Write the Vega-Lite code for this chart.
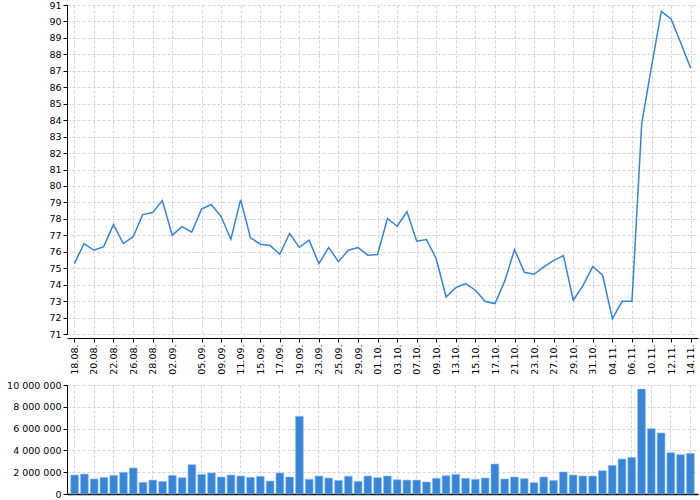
{
  "$schema": "https://vega.github.io/schema/vega-lite/v6.json",
  "padding": {"left": 6, "top": 0, "right": 2, "bottom": 0},
  "background": "white",
  "config": {
    "view": {"stroke": null},
    "axis": {
      "labelFont": "DejaVu Sans",
      "labelFontSize": 9.5,
      "labelColor": "#000",
      "domainColor": "#000",
      "tickColor": "#000",
      "tickSize": 4,
      "labelPadding": 2,
      "gridColor": "#d4d4d4",
      "gridDash": [3, 2],
      "title": null
    }
  },
  "data": {
    "values": [
      {"date": "18.08.", "close": 75.28, "volume": 1740000},
      {"date": "19.08.", "close": 76.50, "volume": 1830000},
      {"date": "20.08.", "close": 76.09, "volume": 1380000},
      {"date": "21.08.", "close": 76.31, "volume": 1530000},
      {"date": "22.08.", "close": 77.65, "volume": 1710000},
      {"date": "25.08.", "close": 76.50, "volume": 1990000},
      {"date": "26.08.", "close": 76.90, "volume": 2390000},
      {"date": "27.08.", "close": 78.26, "volume": 1070000},
      {"date": "28.08.", "close": 78.38, "volume": 1280000},
      {"date": "29.08.", "close": 79.11, "volume": 1160000},
      {"date": "02.09.", "close": 77.00, "volume": 1710000},
      {"date": "03.09.", "close": 77.53, "volume": 1500000},
      {"date": "04.09.", "close": 77.19, "volume": 2690000},
      {"date": "05.09.", "close": 78.59, "volume": 1800000},
      {"date": "08.09.", "close": 78.87, "volume": 1930000},
      {"date": "09.09.", "close": 78.14, "volume": 1560000},
      {"date": "10.09.", "close": 76.76, "volume": 1740000},
      {"date": "11.09.", "close": 79.17, "volume": 1650000},
      {"date": "12.09.", "close": 76.86, "volume": 1530000},
      {"date": "15.09.", "close": 76.46, "volume": 1620000},
      {"date": "16.09.", "close": 76.38, "volume": 1190000},
      {"date": "17.09.", "close": 75.85, "volume": 1930000},
      {"date": "18.09.", "close": 77.11, "volume": 1560000},
      {"date": "19.09.", "close": 76.27, "volume": 7130000},
      {"date": "22.09.", "close": 76.70, "volume": 1350000},
      {"date": "23.09.", "close": 75.28, "volume": 1650000},
      {"date": "24.09.", "close": 76.25, "volume": 1470000},
      {"date": "25.09.", "close": 75.40, "volume": 1250000},
      {"date": "26.09.", "close": 76.09, "volume": 1630000},
      {"date": "29.09.", "close": 76.25, "volume": 1160000},
      {"date": "30.09.", "close": 75.79, "volume": 1650000},
      {"date": "01.10.", "close": 75.83, "volume": 1500000},
      {"date": "02.10.", "close": 78.02, "volume": 1650000},
      {"date": "03.10.", "close": 77.55, "volume": 1310000},
      {"date": "06.10.", "close": 78.44, "volume": 1280000},
      {"date": "07.10.", "close": 76.64, "volume": 1280000},
      {"date": "08.10.", "close": 76.74, "volume": 1100000},
      {"date": "09.10.", "close": 75.56, "volume": 1440000},
      {"date": "10.10.", "close": 73.25, "volume": 1680000},
      {"date": "13.10.", "close": 73.82, "volume": 1800000},
      {"date": "14.10.", "close": 74.06, "volume": 1440000},
      {"date": "15.10.", "close": 73.66, "volume": 1350000},
      {"date": "16.10.", "close": 72.97, "volume": 1470000},
      {"date": "17.10.", "close": 72.85, "volume": 2750000},
      {"date": "20.10.", "close": 74.23, "volume": 1380000},
      {"date": "21.10.", "close": 76.13, "volume": 1560000},
      {"date": "22.10.", "close": 74.75, "volume": 1410000},
      {"date": "23.10.", "close": 74.63, "volume": 1040000},
      {"date": "24.10.", "close": 75.08, "volume": 1560000},
      {"date": "27.10.", "close": 75.48, "volume": 1250000},
      {"date": "28.10.", "close": 75.77, "volume": 2020000},
      {"date": "29.10.", "close": 73.05, "volume": 1740000},
      {"date": "30.10.", "close": 73.96, "volume": 1650000},
      {"date": "31.10.", "close": 75.10, "volume": 1650000},
      {"date": "03.11.", "close": 74.57, "volume": 2140000},
      {"date": "04.11.", "close": 71.93, "volume": 2630000},
      {"date": "05.11.", "close": 72.99, "volume": 3210000},
      {"date": "06.11.", "close": 72.99, "volume": 3360000},
      {"date": "07.11.", "close": 83.80, "volume": 9630000},
      {"date": "10.11.", "close": 87.25, "volume": 5990000},
      {"date": "11.11.", "close": 90.61, "volume": 5600000},
      {"date": "12.11.", "close": 90.15, "volume": 3790000},
      {"date": "13.11.", "close": 88.67, "volume": 3610000},
      {"date": "14.11.", "close": 87.15, "volume": 3730000}
    ]
  },
  "spacing": 5,
  "resolve": {"scale": {"x": "independent"}},
  "vconcat": [
    {
      "width": 631,
      "height": 329,
      "mark": {"type": "line", "color": "#3385d9", "strokeWidth": 1.5},
      "encoding": {
        "x": {
          "field": "date",
          "type": "ordinal",
          "sort": null,
          "scale": {"type": "point", "padding": 0.75},
          "axis": {
            "values": ["18.08.", "20.08.", "22.08.", "26.08.", "28.08.", "02.09.", "05.09.", "09.09.", "11.09.", "15.09.", "17.09.", "19.09.", "23.09.", "25.09.", "29.09.", "01.10.", "03.10.", "07.10.", "09.10.", "13.10.", "15.10.", "17.10.", "21.10.", "23.10.", "27.10.", "29.10.", "31.10.", "04.11.", "06.11.", "10.11.", "12.11.", "14.11."],
            "labelAngle": -90,
            "offset": 4,
            "grid": true
          }
        },
        "y": {
          "field": "close",
          "type": "quantitative",
          "scale": {"domain": [71, 91], "nice": false, "zero": false},
          "axis": {"values": [71, 72, 73, 74, 75, 76, 77, 78, 79, 80, 81, 82, 83, 84, 85, 86, 87, 88, 89, 90, 91], "grid": true}
        }
      }
    },
    {
      "width": 631,
      "height": 109,
      "mark": {"type": "bar", "color": "#2f80d8", "opacity": 0.95, "stroke": "#8cbcee", "strokeWidth": 0.6},
      "encoding": {
        "x": {
          "field": "date",
          "type": "ordinal",
          "sort": null,
          "scale": {"type": "band", "paddingInner": 0.2, "paddingOuter": 0.38},
          "axis": {
            "values": ["18.08.", "20.08.", "22.08.", "26.08.", "28.08.", "02.09.", "05.09.", "09.09.", "11.09.", "15.09.", "17.09.", "19.09.", "23.09.", "25.09.", "29.09.", "01.10.", "03.10.", "07.10.", "09.10.", "13.10.", "15.10.", "17.10.", "21.10.", "23.10.", "27.10.", "29.10.", "31.10.", "04.11.", "06.11.", "10.11.", "12.11.", "14.11."],
            "labels": false,
            "ticks": false,
            "grid": true,
            "domainWidth": 1.5
          }
        },
        "y": {
          "field": "volume",
          "type": "quantitative",
          "scale": {"domain": [0, 10000000], "nice": false},
          "axis": {
            "values": [0, 2000000, 4000000, 6000000, 8000000, 10000000],
            "labelExpr": "replace(replace(format(datum.value, ','), ',', ' '), ',', ' ')",
            "grid": true
          }
        }
      }
    }
  ]
}
